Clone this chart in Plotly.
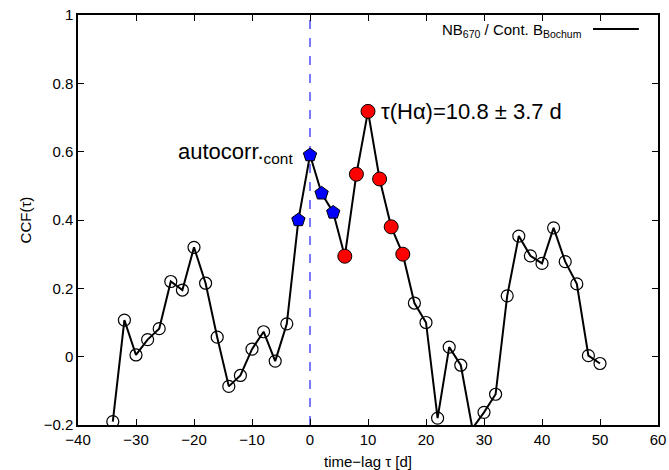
import plotly.graph_objects as go

lags = [-34, -32, -30, -28, -26, -24, -22, -20, -18, -16, -14, -12, -10, -8, -6, -4,
        -2, 0, 2, 4, 6, 8, 10, 12, 14, 16, 18, 20, 22, 24, 26, 28, 30, 32, 34, 36,
        38, 40, 42, 44, 46, 48, 50]
ccf = [-0.19, 0.107, 0.005, 0.05, 0.082, 0.22, 0.195, 0.32, 0.215, 0.057, -0.087,
       -0.055, 0.022, 0.073, -0.013, 0.096,
       0.40, 0.59, 0.478, 0.422,
       0.294, 0.534, 0.718, 0.52, 0.38, 0.30,
       0.157, 0.10, -0.18, 0.028, -0.025, -0.21, -0.163, -0.11, 0.178, 0.353,
       0.295, 0.273, 0.377, 0.278, 0.213, 0.003, -0.02]
auto_lags = [-2, 0, 2, 4]
peak_lags = [6, 8, 10, 12, 14, 16]
xticks = [-40, -30, -20, -10, 0, 10, 20, 30, 40, 50, 60]
yticks = [-0.2, 0, 0.2, 0.4, 0.6, 0.8, 1]
xr = [-40, 60]
yr = [-0.2, 1]

val = dict(zip(lags, ccf))
special = set(auto_lags) | set(peak_lags)
open_x = [l for l in lags if l not in special and yr[0] <= val[l] <= yr[1]]

FONT = "Liberation Sans, Arial"

fig = go.Figure()
fig.add_trace(go.Scatter(x=lags, y=ccf, mode="lines",
                         line=dict(color="black", width=2), showlegend=False))
fig.add_trace(go.Scatter(x=open_x, y=[val[l] for l in open_x], mode="markers",
                         marker=dict(symbol="circle-open", size=12,
                                     color="black", line=dict(width=1.2)),
                         showlegend=False))
fig.add_trace(go.Scatter(x=auto_lags, y=[val[l] for l in auto_lags], mode="markers",
                         marker=dict(symbol="pentagon", size=14, color="#0000ff",
                                     line=dict(color="black", width=1)),
                         showlegend=False))
fig.add_trace(go.Scatter(x=peak_lags, y=[val[l] for l in peak_lags], mode="markers",
                         marker=dict(symbol="circle", size=14, color="#ff0000",
                                     line=dict(color="black", width=1)),
                         showlegend=False))

# vertical dashed line at zero lag
fig.add_shape(type="line", x0=0, x1=0, y0=yr[0], y1=yr[1], xref="x", yref="y",
              line=dict(color="#4d4dff", width=1.5, dash="dash"), layer="below")

# legend replica (gnuplot style: text then sample)
fig.add_annotation(x=0.873, y=0.963, xref="paper", yref="paper", xanchor="right",
                   yanchor="middle", showarrow=False,
                   text="NB<sub>670</sub> / Cont. B<sub>Bochum</sub>",
                   font=dict(family=FONT, size=15, color="black"))
fig.add_shape(type="line", xref="paper", yref="paper", x0=0.888, x1=0.967,
              y0=0.966, y1=0.966, line=dict(color="black", width=2))

fig.add_annotation(x=10, y=0.718, xref="x", yref="y", xanchor="left", yanchor="middle",
                   xshift=11, showarrow=False, text="τ(Hα)=10.8 ± 3.7 d",
                   font=dict(family=FONT, size=22, color="black"))
fig.add_annotation(x=0, y=0.59, xref="x", yref="y", xanchor="right", yanchor="middle",
                   xshift=-15, yshift=2, showarrow=False, text="autocorr.<sub>cont</sub>",
                   font=dict(family=FONT, size=22, color="black"))

axis_common = dict(showgrid=False, zeroline=False, showline=True, linecolor="black",
                   linewidth=1.5, mirror="ticks", ticks="inside", ticklen=6,
                   tickcolor="black", tickwidth=1, automargin=False,
                   tickfont=dict(family=FONT, size=15, color="black"))
fig.update_xaxes(range=xr, tickvals=xticks,
                 ticktext=[str(t).replace("-", "\u2212") for t in xticks],
                 title=dict(text="time\u2212lag τ [d]", standoff=10,
                            font=dict(family=FONT, size=15, color="black")),
                 **axis_common)
fig.update_yaxes(range=yr, tickvals=yticks,
                 ticktext=[("%g" % t).replace("-", "\u2212") for t in yticks],
                 title=dict(text="CCF(τ)", standoff=8,
                            font=dict(family=FONT, size=15, color="black")),
                 **axis_common)
fig.update_layout(width=669, height=470, margin=dict(l=78, r=11, t=15, b=45),
                  plot_bgcolor="white", paper_bgcolor="white", showlegend=False)
fig.write_html("out.html")
